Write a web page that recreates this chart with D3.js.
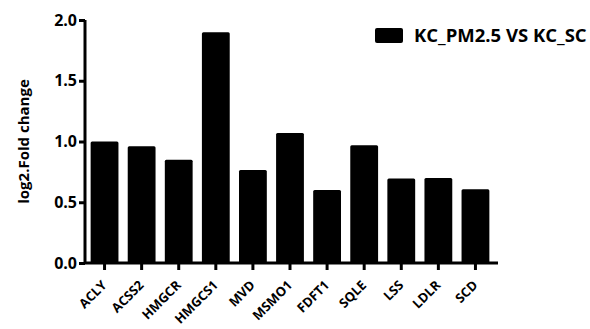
<!DOCTYPE html>
<html>
<head>
<meta charset="utf-8">
<script src="https://cdn.jsdelivr.net/npm/d3@7"></script>
<style>
  body { margin: 0; background: #fff; }
  text { font-family: "Open Sans", sans-serif; font-weight: bold; }
</style>
</head>
<body>
<script>
const genes = ["ACLY", "ACSS2", "HMGCR", "HMGCS1", "MVD", "MSMO1", "FDFT1", "SQLE", "LSS", "LDLR", "SCD"];
const foldChange = [1.0, 0.96, 0.85, 1.9, 0.765, 1.07, 0.6, 0.97, 0.695, 0.70, 0.607];
const yTicks = [0, 0.5, 1.0, 1.5, 2.0];
const seriesName = "KC_PM2.5 VS KC_SC";

const width = 590, height = 329;
const margin = { top: 20, right: 93, bottom: 66, left: 85 };

const svg = d3.select("body").append("svg")
  .attr("width", width)
  .attr("height", height);

const x = d3.scaleBand()
  .domain(genes)
  .range([margin.left + 1, margin.left + 1 + 408])
  .paddingInner(0.25)
  .paddingOuter(0.125);

const y = d3.scaleLinear()
  .domain([0, 2])
  .range([height - margin.bottom, margin.top]);

svg.selectAll("rect.bar")
  .data(genes)
  .join("rect")
  .attr("class", "bar")
  .attr("x", d => x(d))
  .attr("width", x.bandwidth())
  .attr("y", (d, i) => y(foldChange[i]))
  .attr("height", (d, i) => y(0) - y(foldChange[i]))
  .attr("rx", 1.5)
  .attr("fill", "#000");

// y axis
const yAxis = svg.append("g")
  .attr("transform", `translate(${margin.left},0)`)
  .call(d3.axisLeft(y).tickValues(yTicks).tickFormat(d3.format(".1f")).tickSize(6).tickPadding(2));
yAxis.select(".domain").attr("stroke-width", 3).attr("d", `M0,${y(2)}V${y(0)}`);
yAxis.selectAll(".tick line").attr("stroke-width", 3);
yAxis.selectAll(".tick text").attr("font-size", 16).attr("fill", "#000");

// x axis, labels drawn by hand so they can be slanted
const xAxis = svg.append("g")
  .attr("transform", `translate(0,${y(0)})`)
  .call(d3.axisBottom(x).tickSize(7).tickFormat(""));
xAxis.select(".domain").attr("stroke-width", 3).attr("d", `M${margin.left},0H${margin.left + 413}`);
xAxis.selectAll(".tick line").attr("stroke-width", 3);
xAxis.selectAll(".tick text").remove();

svg.append("g")
  .selectAll("g")
  .data(genes)
  .join("g")
  .attr("transform", d => `translate(${x(d) + x.bandwidth() / 2 + 3},${y(0) + 23})`)
  .append("text")
  .attr("transform", "rotate(-45)")
  .attr("text-anchor", "end")
  .attr("font-size", 13)
  .attr("fill", "#000")
  .text(d => d);

// y label
svg.append("text")
  .attr("transform", `translate(29,${(y(0) + y(2)) / 2}) rotate(-90)`)
  .attr("text-anchor", "middle")
  .attr("font-size", 15)
  .text("log2.Fold change");

// legend
const legend = svg.append("g").attr("transform", "translate(375,28)");
legend.append("rect")
  .attr("width", 28).attr("height", 15).attr("rx", 2).attr("fill", "#000");
legend.append("text")
  .attr("x", 39).attr("y", 8).attr("dy", "0.35em")
  .attr("font-size", 18.5)
  .text(seriesName);
</script>
</body>
</html>
